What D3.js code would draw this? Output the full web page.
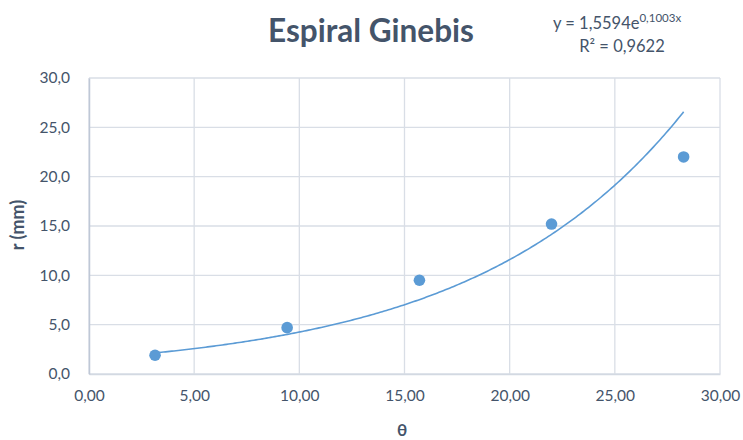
<!DOCTYPE html>
<html>
<head>
<meta charset="utf-8">
<script src="https://cdn.jsdelivr.net/npm/d3@7"></script>
<style>
  body { margin: 0; background: #fff; }
  svg { display: block; }
</style>
</head>
<body>
<svg id="chart" width="743" height="440"></svg>
<script>
// Measured points of the Ginebis spiral (angle θ in radians, radius r in mm)
const thetaValues = [3.14, 9.42, 15.71, 21.99, 28.27];
const radiusValues = [1.9, 4.7, 9.5, 15.2, 22.0];

// Exponential trendline y = a·e^(b·x)
const trendA = 1.5594;
const trendB = 0.1003;
const trendR2 = "0,9622";

const xTicks = [0, 5, 10, 15, 20, 25, 30];
const yTicks = [0, 5, 10, 15, 20, 25, 30];

const titleText = "Espiral Ginebis";
const xTitle = "θ";
const yTitle = "r (mm)";

const svg = d3.select("#chart");
const font = "Lato, 'Open Sans', sans-serif";
const textColor = "#44546A";
const markColor = "#5B9BD5";

const x = d3.scaleLinear().domain([0, 30]).range([89, 720]);
const y = d3.scaleLinear().domain([0, 30]).range([374, 78]);

const fmt1 = v => d3.format(".1f")(v).replace(".", ",");
const fmt2 = v => d3.format(".2f")(v).replace(".", ",");

// Gridlines
svg.append("g").selectAll("line.h").data(yTicks).join("line")
  .attr("x1", x(0)).attr("x2", x(30))
  .attr("y1", d => y(d)).attr("y2", d => y(d))
  .attr("stroke", "#D9DEE6").attr("stroke-width", 1.3);
svg.append("g").selectAll("line.v").data(xTicks).join("line")
  .attr("y1", y(0)).attr("y2", y(30))
  .attr("x1", d => x(d)).attr("x2", d => x(d))
  .attr("stroke", "#D9DEE6").attr("stroke-width", 1.3);

// Axes
const xAxis = d3.axisBottom(x).tickValues(xTicks).tickFormat(fmt2).tickSize(0).tickPadding(16);
const yAxis = d3.axisLeft(y).tickValues(yTicks).tickFormat(fmt1).tickSize(0).tickPadding(19);

const gx = svg.append("g").attr("transform", `translate(0,${y(0)})`).call(xAxis);
const gy = svg.append("g").attr("transform", `translate(${x(0)},0)`).call(yAxis);
[gx, gy].forEach(g => {
  g.select(".domain").attr("stroke", "#BFC8D6").attr("stroke-width", 1.5);
  g.selectAll("text").attr("fill", textColor).attr("font-family", font).attr("font-size", 15.5);
});
gx.select(".domain").attr("stroke", "#D3D9E2");

// Trendline
const curveXs = d3.range(thetaValues[0], thetaValues[thetaValues.length - 1] + 0.001, 0.1);
curveXs.push(thetaValues[thetaValues.length - 1]);
const line = d3.line().x(d => x(d)).y(d => y(trendA * Math.exp(trendB * d)));
svg.append("path").datum(curveXs)
  .attr("d", line).attr("fill", "none")
  .attr("stroke", markColor).attr("stroke-width", 1.6);

// Data points
svg.append("g").selectAll("circle").data(thetaValues).join("circle")
  .attr("cx", d => x(d))
  .attr("cy", (d, i) => y(radiusValues[i]))
  .attr("r", 5.8)
  .attr("fill", markColor);

// Title
svg.append("text").attr("x", 371).attr("y", 42)
  .attr("text-anchor", "middle").attr("font-family", font)
  .attr("font-weight", "bold").attr("font-size", 31.5).attr("fill", textColor)
  .text(titleText);

// Trendline equation
const eq = svg.append("text").attr("x", 553).attr("y", 29)
  .attr("font-family", font).attr("font-size", 16.5).attr("fill", textColor);
eq.append("tspan").text(`y = ${String(trendA).replace(".", ",")}e`);
eq.append("tspan").attr("dy", -7).attr("font-size", 11.5)
  .text(`${String(trendB).replace(".", ",")}x`);
svg.append("text").attr("x", 622).attr("y", 52).attr("text-anchor", "middle")
  .attr("font-family", font).attr("font-size", 16.5).attr("fill", textColor)
  .text(`R² = ${trendR2}`);

// Axis titles
svg.append("text").attr("x", 402).attr("y", 436).attr("text-anchor", "middle")
  .attr("font-family", font).attr("font-weight", "bold").attr("font-size", 17)
  .attr("fill", textColor).text(xTitle);
svg.append("text").attr("transform", "translate(24,225) rotate(-90)")
  .attr("text-anchor", "middle").attr("font-family", font).attr("font-weight", "bold")
  .attr("font-size", 18).attr("fill", textColor).text(yTitle);
</script>
</body>
</html>
